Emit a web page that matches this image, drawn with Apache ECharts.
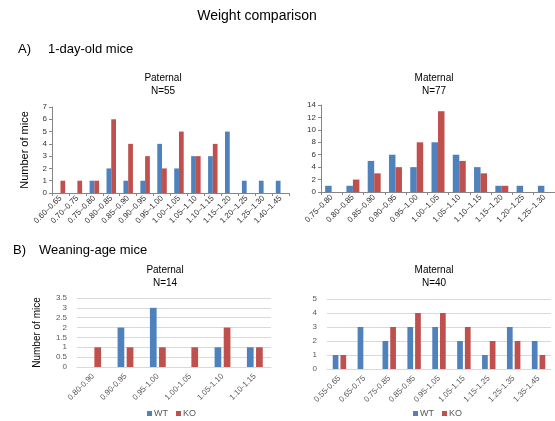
<!DOCTYPE html>
<html><head><meta charset="utf-8">
<script src="https://cdn.jsdelivr.net/npm/echarts@6/dist/echarts.min.js"></script>
<style>html,body{margin:0;padding:0;background:#fff}#c{width:555px;height:421px}</style>
</head><body><div id="c"></div><script>
// A) 1-day-old mice, paternal (N=55)
const pupPatCategories = ['0.60–0.65','0.70–0.75','0.75–0.80','0.80–0.85','0.85–0.90','0.90–0.95','0.95–1.00','1.00–1.05','1.05–1.10','1.10–1.15','1.15–1.20','1.20–1.25','1.25–1.30','1.40–1.45'];
const pupPatWT = [0,0,1,2,1,1,4,2,3,3,5,1,1,1];
const pupPatKO = [1,1,1,6,4,3,2,5,3,4,0,0,0,0];
// A) 1-day-old mice, maternal (N=77)
const pupMatCategories = ['0.75–0.80','0.80–0.85','0.85–0.90','0.90–0.95','0.95–1.00','1.00–1.05','1.05–1.10','1.10–1.15','1.15–1.20','1.20–1.25','1.25–1.30'];
const pupMatWT = [1,1,5,6,4,8,6,4,1,1,1];
const pupMatKO = [0,2,3,4,8,13,5,3,1,0,0];
// B) Weaning-age mice, paternal (N=14)
const weanPatCategories = ['0.80-0.90','0.90-0.95','0.95-1.00','1.00-1.05','1.05-1.10','1.10-1.15'];
const weanPatWT = [0,2,3,0,1,1];
const weanPatKO = [1,1,1,1,2,1];
// B) Weaning-age mice, maternal (N=40)
const weanMatCategories = ['0.55-0.65','0.65-0.75','0.75-0.85','0.85-0.95','0.95-1.05','1.05-1.15','1.15-1.25','1.25-1.35','1.35-1.45'];
const weanMatWT = [1,3,2,3,3,2,1,3,2];
const weanMatKO = [1,0,3,4,4,3,2,2,1];

const FONT = 'Liberation Sans, Arial, sans-serif';
const BLUE = '#4F81BD', RED = '#C0504D';
const chart = echarts.init(document.getElementById('c'), null, {renderer:'canvas'});

function txt(x, y, s, size, align) {
  return {type:'text', x:x, y:y, style:{text:s, font: size + 'px ' + FONT, fill:'#000', textAlign: align || 'center', textVerticalAlign:'middle'}};
}

const topX = (cats, idx) => ({
  type:'category', gridIndex: idx, data: cats,
  axisLine:{show:true, lineStyle:{color:'#868686', width:1}},
  axisTick:{show:true, length:3, lineStyle:{color:'#868686'}},
  axisLabel:{rotate:45, fontSize:8, color:'#333', margin:4, fontFamily:FONT, interval:0}
});
const topY = (max, interval, idx, name) => ({
  type:'value', gridIndex: idx, min:0, max:max, interval:interval,
  name: name, nameLocation:'middle', nameGap:22, nameTextStyle:{fontSize:11, color:'#000', fontFamily:FONT},
  axisLine:{show:true, lineStyle:{color:'#868686'}},
  axisTick:{show:true, length:3, lineStyle:{color:'#868686'}},
  axisLabel:{fontSize:8, color:'#333', margin:5, fontFamily:FONT},
  splitLine:{show:false}
});
const botX = (cats, idx) => ({
  type:'category', gridIndex: idx, data: cats,
  axisLine:{show:true, lineStyle:{color:'#d9d9d9', width:1}},
  axisTick:{show:false},
  axisLabel:{rotate:45, fontSize:8, color:'#595959', margin:8, fontFamily:FONT, interval:0}
});
const botY = (max, interval, idx, name, gap) => ({
  type:'value', gridIndex: idx, min:0, max:max, interval:interval,
  name: name, nameLocation:'middle', nameGap:gap || 38, nameTextStyle:{fontSize:10, color:'#000', fontFamily:FONT},
  axisLine:{show:false}, axisTick:{show:false},
  axisLabel:{fontSize:8, color:'#595959', margin:10, fontFamily:FONT},
  splitLine:{show:true, lineStyle:{color:'#d9d9d9'}}
});
const bar = (name, data, idx, color, bcg, bg) => ({
  type:'bar', name:name, xAxisIndex: idx, yAxisIndex: idx, data:data,
  itemStyle:{color:color}, barCategoryGap: bcg, barGap: bg, animation:false
});

chart.setOption({
  animation:false,
  textStyle:{fontFamily:FONT},
  grid:[
    {left:52, top:107, width:237, height:86},
    {left:321, top:105, width:241, height:87},
    {left:77, top:298, width:194, height:69},
    {left:327, top:299, width:224, height:70}
  ],
  xAxis:[ topX(pupPatCategories,0), topX(pupMatCategories,1), botX(weanPatCategories,2), botX(weanMatCategories,3) ],
  yAxis:[ topY(7,1,0,'Number of mice'), topY(14,2,1,''), botY(3.5,0.5,2,'Number of mice',35), botY(5,1,3,'') ],
  legend:[
    {left:147, top:409, padding:0, data:['WT','KO'], icon:'rect', itemWidth:5, itemHeight:5, itemGap:8, textStyle:{fontSize:9, color:'#595959', fontFamily:FONT, padding:[0,0,0,-3]}, selectedMode:false},
    {left:413, top:409, padding:0, data:['WT','KO'], icon:'rect', itemWidth:5, itemHeight:5, itemGap:8, textStyle:{fontSize:9, color:'#595959', fontFamily:FONT, padding:[0,0,0,-3]}, selectedMode:false}
  ],
  series:[
    bar('WT', pupPatWT, 0, BLUE, '44%', '0%'),
    bar('KO', pupPatKO, 0, RED, '44%', '0%'),
    bar('WT', pupMatWT, 1, BLUE, '39%', '0%'),
    bar('KO', pupMatKO, 1, RED, '39%', '0%'),
    bar('WT', weanPatWT, 2, BLUE, '51%', '36%'),
    bar('KO', weanPatKO, 2, RED, '51%', '36%'),
    bar('WT', weanMatWT, 3, BLUE, '46%', '35%'),
    bar('KO', weanMatKO, 3, RED, '46%', '35%')
  ],
  graphic:[
    txt(257, 16, 'Weight comparison', 14),
    txt(18, 49, 'A)', 13, 'left'),
    txt(48, 49, '1-day-old mice', 13, 'left'),
    txt(13, 250, 'B)', 13, 'left'),
    txt(39, 250, 'Weaning-age mice', 13, 'left'),
    txt(163, 78, 'Paternal', 10), txt(163, 91, 'N=55', 10),
    txt(434, 78, 'Maternal', 10), txt(434, 91, 'N=77', 10),
    txt(165, 270, 'Paternal', 10), txt(165, 283, 'N=14', 10),
    txt(434, 270, 'Maternal', 10), txt(434, 283, 'N=40', 10)
  ]
});
</script></body></html>
